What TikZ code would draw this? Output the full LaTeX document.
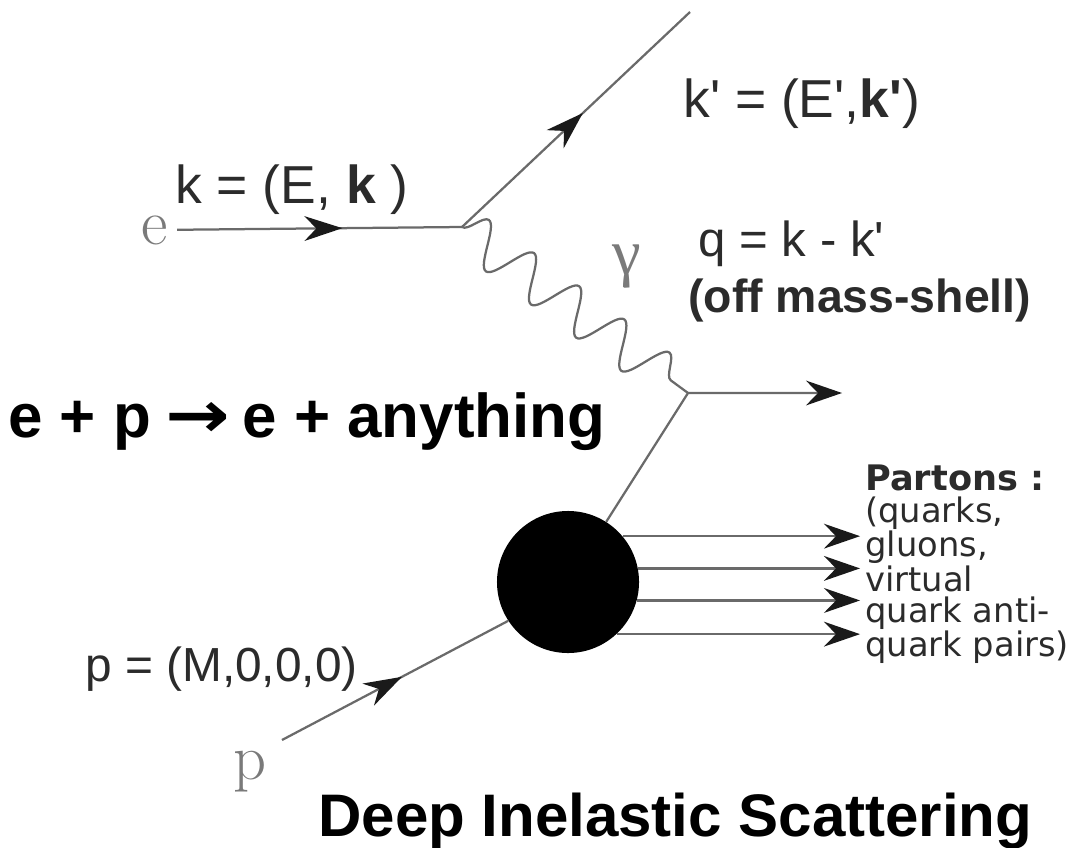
\documentclass[tikz,border=0pt]{standalone}
\usepackage{fontspec}
\setsansfont{Liberation Sans}
\newfontfamily\partonfont{DejaVu Sans}
\newfontfamily\greekfont{Liberation Serif}
\usepackage{xcolor}
\usepackage{tikz}
\usetikzlibrary{arrows.meta,decorations.pathmorphing,decorations.markings,positioning}

\definecolor{linegray}{HTML}{6A6A6A}
\definecolor{labelgray}{HTML}{7A7A7A}
\definecolor{textgray}{HTML}{2B2B2B}
\definecolor{tipgray}{HTML}{1A1A1A}
\newcommand{\prm}{\textquotesingle}
\newcommand{\reactarrow}{\hspace{10pt}\scalebox{1.25}[1.05]{\partonfont\bfseries →}\hspace{9pt}}

\begin{document}
\begin{tikzpicture}[
    x=0.025cm, y=-0.025cm,
    line/.style={draw=linegray, line width=1.6pt},
    headtip/.style={-{Stealth[length=0.9cm, width=0.62cm, inset=0.3cm, color=tipgray]}},
    midarrow/.style={postaction={decorate}, decoration={markings, mark=at position #1 with {\arrow{Stealth[length=0.95cm, width=0.62cm, inset=0.3cm, color=tipgray]}}}},
    photon/.style={draw=linegray, line width=1.6pt, decorate, decoration={snake, amplitude=0.54cm, segment length=1.4cm}},
    blob/.style={circle, fill=black, inner sep=0pt, minimum size=3.55cm},
    serifbox/.style={inner sep=0.22cm, text=labelgray, font=\fontsize{46}{50}\selectfont},
    txt/.style={inner sep=0pt, text=textgray, font=\sffamily\fontsize{38}{44}\selectfont},
    qtxt/.style={inner sep=0pt, text=textgray, font=\sffamily\fontsize{35}{40}\selectfont},
    shelltxt/.style={inner sep=0pt, text=textgray, font=\sffamily\bfseries\fontsize{33}{38}\selectfont},
    bigbold/.style={inner sep=0pt, text=black, font=\sffamily\bfseries\fontsize{44}{50}\selectfont},
    partonhead/.style={inner sep=0pt, text=textgray, font=\partonfont\bfseries\fontsize{25}{28}\selectfont},
    partontxt/.style={inner sep=0pt, text=textgray, align=left, font=\partonfont\fontsize{24}{22.5}\selectfont}
]
    \useasboundingbox (0,0) rectangle (1070,847);

    % vertices and free ends
    \coordinate (v1) at (462,227);
    \coordinate (kout) at (690,12);
    \coordinate (v2) at (688,393);
    \coordinate (qout) at (842,393);
    \coordinate (pin) at (282,740);
    \coordinate (tipx) at (860,0);

    \node [serifbox] (e) at (155,230) {e};
    \node [serifbox] (p) at (250,772) {p};
    \node [serifbox, font=\greekfont\fontsize{46}{50}\selectfont] (gamma) at (627,267) {γ};
    \node [blob] (blob) at (568,582) {};

    % labels
    \node [txt, anchor=base west] (klbl) at (175,203) {k = (E, \textbf{k} )};
    \node [txt, anchor=base west] (kplbl) at (683,118) {k\prm{} = (E\prm,\textbf{k\prm})};
    \node [qtxt, anchor=base west] (qlbl) at (698,256) {q = k - k\prm};
    \node [shelltxt, anchor=base west] (shell) at (688,312) {(off mass-shell)};
    \node [bigbold, anchor=base west] (react) at (8,437) {e + p\reactarrow e + anything};
    \node [txt, font=\sffamily\fontsize{34}{40}\selectfont, anchor=base west] (plbl) at (85,681) {p = (M,0,0,0)};
    \node [partonhead, anchor=base west] (partons) at (865,490) {Partons :};
    \node [partontxt, anchor=north west] (plist) at (865,497) {(quarks,\\gluons,\\virtual\\quark anti-\\quark pairs)};
    \node [bigbold, font=\sffamily\bfseries\fontsize{42.7}{48}\selectfont, anchor=base west] (title) at (318,836) {Deep Inelastic Scattering};

    % lines
    \draw [line, midarrow=0.58] (e) -- (v1);
    \draw [line, midarrow=0.53] (v1) -- (kout);
    \draw [photon] (v1) -- (v2);
    \draw [line, headtip] (blob) -- (v2) -- (qout);
    \draw [line, midarrow=0.53] (pin) -- (blob.213);
    \foreach \a in {40.4,11.4,-15.5,-47.1}
        \draw [line, headtip] (blob.\a) -- (blob.\a -| tipx);
\end{tikzpicture}
\end{document}
